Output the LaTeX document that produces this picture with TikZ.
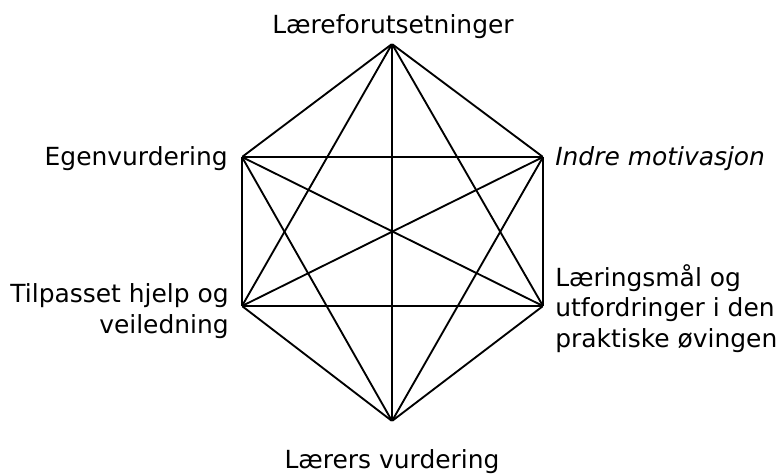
\documentclass[tikz,border=0pt]{standalone}
\usepackage{fontspec}
\setmainfont{DejaVu Sans}
\usetikzlibrary{positioning}

\begin{document}
\begin{tikzpicture}[
    x=0.75pt, y=-0.75pt,
    corner/.style={inner sep=0pt, minimum size=0pt},
    label/.style={font=\fontsize{18.7}{22.8}\selectfont, inner sep=0pt},
    edge/.style={line width=1.4pt, line join=miter}
]
\useasboundingbox (0,0) rectangle (784,475);
\node[corner] (top) at (392,44) {};
\node[corner] (ur) at (543,157) {};
\node[corner] (lr) at (543,306) {};
\node[corner] (bot) at (392,421) {};
\node[corner] (ll) at (242,306) {};
\node[corner] (ul) at (242,157) {};

\node[label, anchor=base] (ltop) at (393,33) {Læreforutsetninger};
\node[label, anchor=base east] (lul) at (228,165) {Egenvurdering};
\node[label, anchor=base west] (lur) at (555,165) {\itshape Indre motivasjon};
\node[label, anchor=base east, align=right] (lll) at (229,333) {Tilpasset hjelp og\\veiledning};
\node[label, anchor=base west, align=left] (llr) at (555,347) {Læringsmål og\\utfordringer i den\\praktiske øvingen};
\node[label, anchor=base] (lbot) at (392,468) {Lærers vurdering};

\foreach \a/\b in {top/ur, top/lr, top/bot, top/ll, top/ul,
                   ur/lr, ur/bot, ur/ll, ur/ul,
                   lr/bot, lr/ll, lr/ul,
                   bot/ll, bot/ul,
                   ll/ul}
    \draw[edge] (\a) -- (\b);
\end{tikzpicture}
\end{document}
